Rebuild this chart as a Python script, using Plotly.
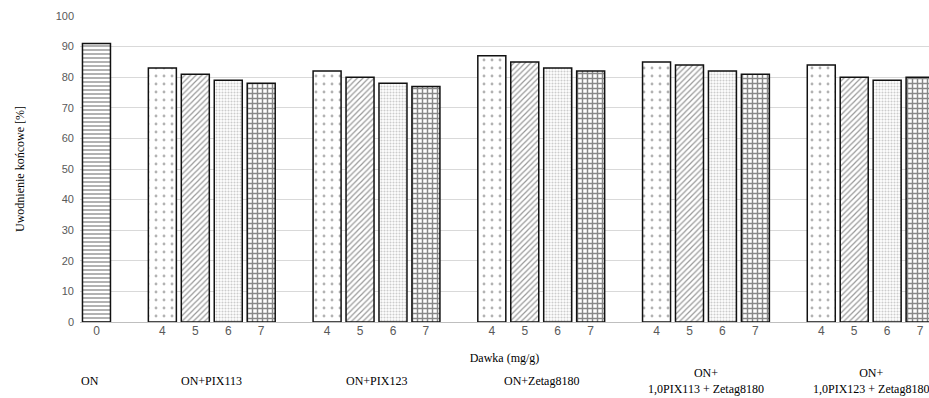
import plotly.graph_objects as go

groups = ["ON", "ON+PIX113", "ON+PIX123", "ON+Zetag8180",
          "ON+<br>1,0PIX113 + Zetag8180", "ON+<br>1,0PIX123 + Zetag8180"]
doses_on = ["0"]
values_on = [91]
doses = ["4", "5", "6", "7"]
values_pix113 = [83, 81, 79, 78]
values_pix123 = [82, 80, 78, 77]
values_zetag = [87, 85, 83, 82]
values_pix113_zetag = [85, 84, 82, 81]
values_pix123_zetag = [84, 80, 79, 80]

group_values = [values_on, values_pix113, values_pix123, values_zetag,
                values_pix113_zetag, values_pix123_zetag]
group_doses = [doses_on, doses, doses, doses, doses, doses]

# pattern per dose
pat = {"0": ("-", 4, 0.35, "#222222"),
       "4": (".", 8, 0.1, "#666666"),
       "5": ("/", 4, 0.3, "#333333"),
       "6": (".", 3, 0.4, "#999999"),
       "7": ("+", 5, 0.5, "#111111")}

xs, ys, labels, shapes, sizes, sols, fgs = [], [], [], [], [], [], []
centers = []
slot = 0
for gi, (dl, vl) in enumerate(zip(group_doses, group_values)):
    start = slot
    for d, v in zip(dl, vl):
        xs.append(slot); ys.append(v); labels.append(d)
        s, sz, so, fg = pat[d]
        shapes.append(s); sizes.append(sz); sols.append(so); fgs.append(fg)
        slot += 1
    centers.append((start + slot - 1) / 2)
    slot += 1

fig = go.Figure()
fig.add_trace(go.Bar(
    x=xs, y=ys, width=0.85,
    marker=dict(color="white", line=dict(color="#111111", width=1.5),
                pattern=dict(shape=shapes, size=sizes, solidity=sols,
                             fgcolor=fgs, bgcolor="white", fillmode="overlay")),
    showlegend=False))

center_pos = list(centers)
center_pos[0] = -0.2
for c, g in zip(center_pos, groups):
    fig.add_annotation(x=c, xref="x", y=-0.192, yref="paper",
                       text=g, showarrow=False, yanchor="middle",
                       font=dict(family="Liberation Serif", size=12, color="#000000"))

fig.update_layout(
    width=929, height=398,
    margin=dict(l=80, r=0, t=16, b=76),
    plot_bgcolor="white", paper_bgcolor="white",
    bargap=0.15,
    xaxis=dict(range=[-0.5, 25.27], tickmode="array", tickvals=xs, ticktext=labels,
               showgrid=False, showline=False, ticks="",
               tickfont=dict(family="Liberation Sans", size=12, color="#595959"),
               title=dict(text="Dawka (mg/g)", standoff=16,
                          font=dict(family="Liberation Serif", size=12, color="#000000"))),
    yaxis=dict(range=[0, 100], dtick=10, showgrid=True, gridcolor="#d9d9d9",
               zeroline=True, zerolinecolor="#bfbfbf", zerolinewidth=1,
               ticks="", ticklabelstandoff=5,
               tickfont=dict(family="Liberation Sans", size=11, color="#595959"),
               title=dict(text="Uwodnienie końcowe [%]", standoff=28,
                          font=dict(family="Liberation Serif", size=12, color="#000000"))),
)

fig.write_html("out.html")
